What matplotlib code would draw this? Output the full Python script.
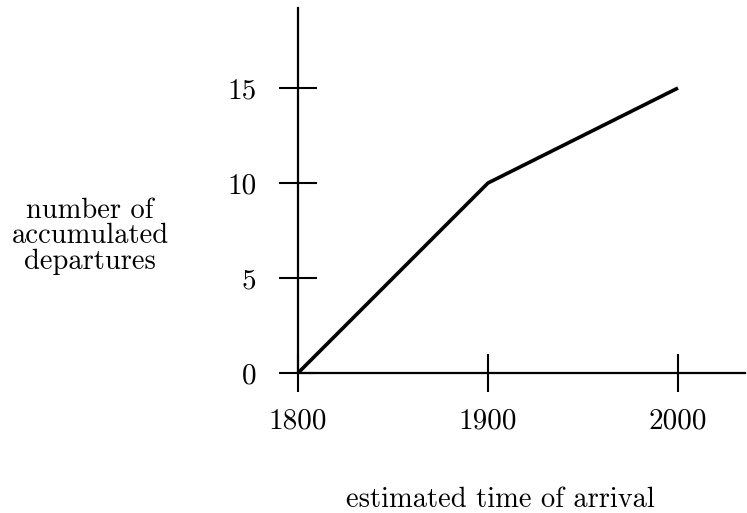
import matplotlib
matplotlib.use("Agg")
import matplotlib.pyplot as plt

plt.rcParams['font.family'] = ['cmr10', 'DejaVu Serif']
plt.rcParams['axes.formatter.use_mathtext'] = True

x_vals = [1800, 1900, 2000]
y_vals = [0, 10, 15]
x_ticks = [1800, 1900, 2000]
y_ticks = [0, 5, 10, 15]
x_label = "estimated time of arrival"
y_label = "number of\naccumulated\ndepartures"

fig = plt.figure(figsize=(7.47, 5.13), dpi=100)
ax = fig.add_axes([298/747, 140/513, 447/747, 365/513])
ax.plot(x_vals, y_vals, color='black', lw=2.6, solid_capstyle='butt')
ax.set_xlim(1800, 1800 + 447/1.9)
ax.set_ylim(0, 365/19.0)
ax.set_xticks(x_ticks)
ax.set_yticks(y_ticks)
ax.set_xticklabels([str(v) for v in x_ticks])
ax.set_yticklabels([str(v) for v in y_ticks])
for s in ['top', 'right']:
    ax.spines[s].set_visible(False)
for s in ['left', 'bottom']:
    ax.spines[s].set_linewidth(1.6)
ax.tick_params(axis='both', direction='inout', length=28, width=1.5, labelsize=21)
ax.tick_params(axis='x', pad=11)
ax.tick_params(axis='y', pad=16)

fig.text(90/747, 1 - 236/513, y_label, ha='center', va='center', fontsize=20.5, linespacing=0.96)
fig.text(500/747, 1 - 500/513, x_label, ha='center', va='center', fontsize=20.5)

fig.savefig("out.png", dpi=100)
